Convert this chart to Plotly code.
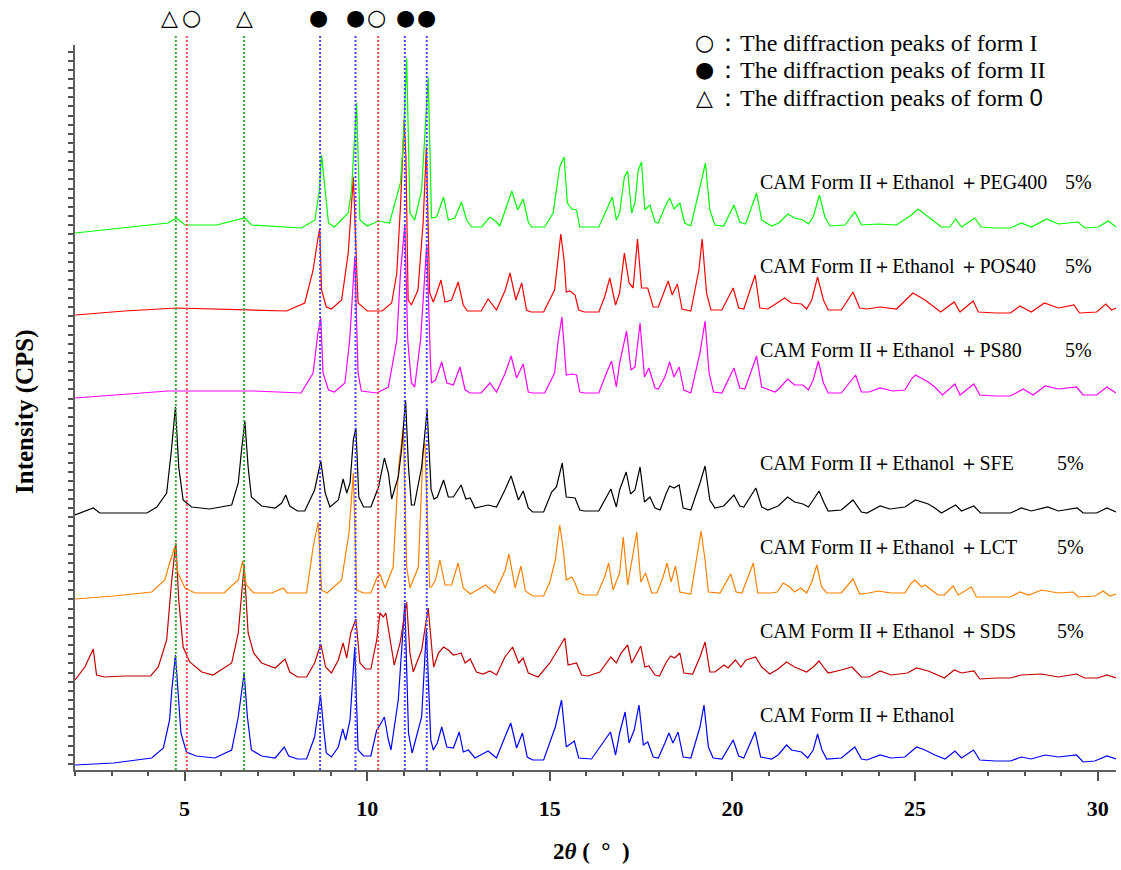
import plotly.graph_objects as go

# ---------------- data (2theta in degrees, intensity above each pattern's own baseline) ----------------
ETHANOL = [(2.00,5),(3.06,7),(4.10,12),(4.42,22),(4.59,50),(4.65,80),(4.75,115),(4.81,83),(4.90,37),(5.05,18),
(5.32,14),(5.83,12),(6.29,20),(6.47,53),(6.63,97),(6.72,53),(6.83,20),(7.11,14),(7.48,12),(7.73,23),
(7.85,14),(8.09,11),(8.34,11),(8.56,33),(8.72,75),(8.82,37),(8.88,17),(9.02,13),(9.21,23),(9.33,41),
(9.41,30),(9.53,50),(9.66,123),(9.75,20),(9.90,14),(10.10,14),(10.26,40),(10.35,45),(10.47,53),(10.58,30),
(10.65,20),(10.85,70),(11.03,167),(11.13,37),(11.23,17),(11.49,53),(11.62,140),(11.74,30),(11.81,20),(11.92,27),
(12.04,43),(12.18,23),(12.36,22),(12.52,38),(12.63,18),(12.77,20),(12.95,12),(13.31,19),(13.54,12),(13.77,33),
(13.93,47),(14.09,22),(14.25,37),(14.38,13),(14.53,10),(14.83,10),(15.00,27),(15.15,43),(15.32,70),(15.45,23),
(15.67,29),(15.79,12),(16.14,11),(16.50,30),(16.66,38),(16.80,15),(16.91,37),(17.06,58),(17.17,27),(17.31,40),
(17.44,65),(17.56,25),(17.68,28),(17.83,13),(17.97,12),(18.15,27),(18.26,37),(18.37,27),(18.51,38),(18.65,13),
(18.86,12),(19.11,43),(19.22,65),(19.34,23),(19.47,12),(19.71,11),(20.02,30),(20.17,14),(20.31,12),(20.62,38),
(20.77,13),(21.07,11),(21.25,15),(21.48,25),(21.62,20),(21.89,18),(22.06,12),(22.21,20),(22.33,36),(22.45,20),
(22.58,11),(22.98,12),(23.35,23),(23.53,11),(23.68,10),(24.04,15),(24.34,12),(24.72,13),(25.04,23),(25.27,20),
(25.54,15),(25.82,11),(26.09,19),(26.27,12),(26.60,20),(26.77,10),(27.21,9),(27.61,9),(27.91,13),(28.18,11),
(28.56,15),(28.92,13),(29.42,15),(29.60,8),(29.92,9),(30.25,14),(30.50,11)]

SDS = [(2.00,5),(2.27,18),(2.50,36),(2.59,10),(2.81,8),(3.36,9),(4.07,9),(4.28,18),(4.51,45),(4.64,102),
(4.76,142),(4.84,85),(4.96,38),(5.14,23),(5.47,13),(5.78,10),(6.29,22),(6.47,52),(6.63,120),(6.74,52),
(6.89,32),(7.11,22),(7.48,17),(7.75,26),(7.88,13),(8.09,8),(8.34,8),(8.56,22),(8.73,41),(8.86,18),
(9.02,12),(9.21,25),(9.34,42),(9.44,27),(9.55,52),(9.69,66),(9.80,22),(9.95,16),(10.10,16),(10.26,45),
(10.35,72),(10.44,68),(10.51,72),(10.62,45),(10.74,20),(10.90,42),(11.08,83),(11.17,32),(11.26,13),(11.49,35),
(11.67,77),(11.78,32),(11.82,18),(11.95,32),(12.09,38),(12.22,35),(12.36,30),(12.49,31),(12.57,32),(12.68,22),
(12.82,26),(12.99,13),(13.17,11),(13.36,14),(13.54,10),(13.77,28),(13.98,38),(14.15,22),(14.27,27),(14.41,12),
(14.68,8),(15.00,22),(15.18,33),(15.41,47),(15.50,20),(15.73,22),(15.87,10),(16.04,9),(16.37,13),(16.55,22),
(16.67,28),(16.82,22),(16.95,32),(17.13,40),(17.24,22),(17.33,28),(17.49,39),(17.60,18),(17.71,19),(17.88,10),
(18.00,9),(18.19,23),(18.31,29),(18.42,27),(18.56,32),(18.67,12),(18.91,11),(19.11,28),(19.25,43),(19.38,13),
(19.52,13),(19.77,20),(19.88,17),(20.08,25),(20.23,18),(20.37,25),(20.63,28),(20.80,18),(21.02,11),(21.25,16),
(21.48,23),(21.70,18),(22.03,13),(22.21,18),(22.37,24),(22.53,16),(22.62,12),(22.98,15),(23.27,18),(23.53,8),
(23.74,8),(24.04,14),(24.34,10),(24.79,12),(25.04,17),(25.36,14),(25.54,11),(25.80,7),(26.07,15),(26.27,12),
(26.61,14),(26.77,6),(27.21,7),(27.61,7),(27.91,10),(28.46,11),(28.92,8),(29.42,11),(29.64,7),(30.00,7),
(30.25,10),(30.50,7)]

LCT = [(2.00,6),(3.06,9),(4.10,13),(4.46,25),(4.59,42),(4.73,58),(4.82,32),(5.01,17),(5.28,12),(6.08,12),
(6.47,25),(6.59,44),(6.69,20),(6.89,12),(7.39,12),(7.70,17),(7.81,12),(7.99,12),(8.34,12),(8.52,58),
(8.66,83),(8.75,15),(8.90,12),(9.30,25),(9.50,72),(9.62,132),(9.71,15),(9.90,12),(10.10,12),(10.26,27),
(10.35,31),(10.49,17),(10.71,38),(10.86,138),(10.99,177),(11.08,38),(11.17,17),(11.40,38),(11.53,155),(11.58,162),
(11.71,18),(11.76,18),(11.87,25),(11.99,45),(12.13,20),(12.31,20),(12.49,42),(12.63,17),(12.82,11),(13.24,20),
(13.49,12),(13.78,35),(13.88,51),(14.05,17),(14.21,39),(14.33,14),(14.53,9),(14.83,9),(15.00,23),(15.15,45),
(15.27,80),(15.36,58),(15.45,25),(15.60,28),(15.69,22),(15.79,12),(15.94,10),(16.29,10),(16.50,28),(16.61,42),
(16.73,15),(16.91,32),(17.01,68),(17.13,20),(17.24,45),(17.38,73),(17.49,23),(17.62,32),(17.79,12),(17.93,12),
(18.10,28),(18.21,42),(18.32,23),(18.44,39),(18.56,13),(18.86,11),(18.98,38),(19.14,74),(19.25,45),(19.34,13),
(19.66,12),(19.95,31),(20.10,13),(20.26,12),(20.57,42),(20.69,12),(21.07,12),(21.22,13),(21.39,22),(21.57,18),
(21.70,13),(21.87,17),(22.03,12),(22.17,23),(22.31,40),(22.44,18),(22.58,12),(22.98,12),(23.30,26),(23.48,11),
(23.74,12),(23.99,14),(24.34,12),(24.72,12),(24.90,22),(25.00,25),(25.18,18),(25.27,20),(25.45,15),(25.63,10),
(25.80,10),(26.04,19),(26.18,10),(26.54,18),(26.68,8),(27.01,8),(27.61,8),(27.87,13),(28.11,10),(28.46,15),
(28.92,12),(29.33,13),(29.47,8),(29.92,9),(30.15,14),(30.33,9),(30.50,11)]

SFE = [(2.00,5),(2.27,9),(2.50,12),(2.68,7),(3.06,7),(3.97,7),(4.24,13),(4.51,27),(4.64,70),(4.75,113),
(4.84,53),(4.96,20),(5.19,13),(5.68,11),(6.29,15),(6.47,37),(6.56,70),(6.65,99),(6.74,53),(6.83,23),
(7.11,14),(7.48,12),(7.66,17),(7.77,25),(7.88,14),(8.09,9),(8.29,9),(8.56,30),(8.73,59),(8.85,27),
(8.98,13),(9.21,20),(9.34,41),(9.44,27),(9.53,37),(9.62,80),(9.69,92),(9.77,23),(9.90,13),(10.10,13),
(10.31,33),(10.47,62),(10.58,47),(10.67,21),(10.85,43),(10.94,70),(11.05,120),(11.13,53),(11.21,15),(11.29,15),
(11.49,53),(11.64,110),(11.75,30),(11.83,21),(11.92,23),(12.09,40),(12.22,23),(12.36,23),(12.57,35),(12.70,21),
(12.82,22),(12.95,12),(13.31,15),(13.54,13),(13.77,30),(13.94,44),(14.14,20),(14.27,29),(14.41,12),(14.53,8),
(14.83,8),(15.05,28),(15.18,33),(15.34,57),(15.45,23),(15.69,22),(15.82,10),(15.94,9),(16.34,9),(16.50,20),
(16.67,31),(16.82,13),(16.91,30),(17.09,48),(17.21,26),(17.33,30),(17.47,53),(17.59,18),(17.74,23),(17.88,12),
(18.02,10),(18.19,27),(18.28,34),(18.40,32),(18.54,35),(18.65,12),(18.86,10),(19.11,37),(19.25,54),(19.38,20),
(19.52,12),(19.76,14),(20.04,25),(20.20,14),(20.31,13),(20.64,32),(20.80,13),(20.97,10),(21.25,14),(21.51,23),
(21.70,18),(21.93,16),(22.08,13),(22.21,20),(22.37,29),(22.51,17),(22.62,9),(22.98,10),(23.30,20),(23.53,8),
(23.68,7),(24.04,14),(24.31,11),(24.72,13),(25.01,20),(25.36,16),(25.54,12),(25.72,7),(26.11,15),(26.27,9),
(26.61,14),(26.79,7),(27.21,7),(27.61,7),(27.91,12),(28.18,9),(28.63,13),(28.92,9),(29.44,12),(29.60,7),
(29.97,7),(30.25,12),(30.50,8)]

PS80 = [(2.00,7),(3.36,11),(4.55,14),(5.38,14),(6.89,14),(8.19,12),(8.52,32),(8.65,72),(8.73,87),(8.79,32),
(8.94,15),(9.10,13),(9.39,22),(9.52,65),(9.66,148),(9.75,32),(9.84,14),(10.26,12),(10.58,18),(10.81,65),
(10.91,132),(11.03,180),(11.11,65),(11.21,22),(11.30,18),(11.46,65),(11.63,160),(11.73,45),(11.76,22),(11.87,25),
(12.04,43),(12.18,22),(12.36,20),(12.54,38),(12.68,15),(12.82,12),(13.12,12),(13.36,22),(13.54,13),(13.78,32),
(13.94,49),(14.09,27),(14.27,41),(14.41,13),(14.53,12),(14.86,12),(15.13,32),(15.23,65),(15.33,88),(15.45,30),
(15.60,31),(15.73,30),(15.82,13),(15.94,12),(16.34,12),(16.55,32),(16.69,44),(16.82,18),(16.91,42),(17.10,74),
(17.22,35),(17.33,38),(17.47,82),(17.59,28),(17.71,37),(17.88,17),(17.97,16),(18.15,28),(18.28,43),(18.40,28),
(18.54,38),(18.67,15),(18.86,12),(19.11,52),(19.25,84),(19.36,32),(19.48,13),(19.71,12),(20.04,37),(20.20,17),
(20.34,16),(20.66,49),(20.80,18),(21.16,13),(21.27,16),(21.51,26),(21.70,20),(21.93,20),(22.08,15),(22.21,25),
(22.35,44),(22.49,22),(22.62,12),(22.98,12),(23.37,30),(23.53,13),(23.74,13),(24.04,17),(24.39,14),(24.72,15),
(24.90,26),(25.01,30),(25.36,23),(25.54,18),(25.75,10),(26.09,21),(26.23,10),(26.61,21),(26.77,10),(27.21,9),
(27.61,9),(27.96,16),(28.23,10),(28.56,19),(28.92,16),(29.42,18),(29.60,10),(29.97,10),(30.25,18),(30.50,12)]

POS40 = [(2.00,5),(3.36,9),(4.77,12),(5.88,11),(7.79,9),(8.29,17),(8.52,50),(8.63,77),(8.70,92),(8.75,30),
(8.88,13),(9.02,11),(9.30,20),(9.48,67),(9.57,120),(9.62,143),(9.71,53),(9.75,17),(10.00,9),(10.41,9),
(10.67,17),(10.81,47),(10.91,113),(11.01,200),(11.06,163),(11.12,20),(11.21,15),(11.39,30),(11.53,97),(11.62,173),
(11.71,27),(11.81,18),(11.90,27),(12.02,40),(12.13,18),(12.31,20),(12.49,38),(12.63,15),(12.74,9),(13.12,9),
(13.31,21),(13.54,10),(13.78,30),(13.91,47),(14.07,20),(14.23,37),(14.36,10),(14.48,8),(14.83,8),(15.13,30),
(15.30,86),(15.39,60),(15.45,28),(15.55,29),(15.69,25),(15.79,10),(15.94,8),(16.34,8),(16.50,23),(16.64,42),
(16.80,15),(16.91,27),(17.04,67),(17.17,37),(17.28,32),(17.40,81),(17.51,32),(17.68,32),(17.83,13),(17.97,13),
(18.24,39),(18.35,25),(18.49,36),(18.62,11),(18.86,9),(19.08,50),(19.17,81),(19.29,27),(19.41,10),(19.71,10),
(20.02,32),(20.17,12),(20.31,11),(20.62,45),(20.75,12),(20.97,11),(21.43,22),(21.61,17),(21.89,16),(22.03,11),
(22.17,20),(22.33,43),(22.49,20),(22.62,10),(22.98,10),(23.30,28),(23.48,12),(23.68,11),(24.04,13),(24.49,11),
(24.94,27),(25.27,20),(25.45,15),(25.70,8),(26.07,18),(26.23,8),(26.59,19),(26.73,8),(27.21,7),(27.61,7),
(27.87,14),(28.18,8),(28.54,17),(28.92,12),(29.35,15),(29.50,7),(29.97,8),(30.22,16),(30.38,10),(30.50,12)]

PEG400 = [(2.00,7),(3.36,12),(4.55,17),(4.78,22),(5.01,15),(5.88,15),(6.65,22),(6.83,15),(8.20,12),(8.57,20),
(8.69,50),(8.75,85),(8.85,50),(8.94,17),(9.10,13),(9.48,27),(9.57,50),(9.71,137),(9.80,20),(10.00,14),
(10.31,19),(10.61,17),(10.91,57),(10.99,100),(11.08,182),(11.17,27),(11.30,20),(11.49,50),(11.67,163),(11.76,22),
(11.90,23),(12.09,43),(12.22,20),(12.40,22),(12.58,38),(12.72,20),(12.86,13),(13.13,13),(13.36,23),(13.54,18),
(13.63,14),(13.82,33),(13.96,49),(14.12,30),(14.27,41),(14.41,18),(14.50,13),(14.86,13),(15.09,27),(15.27,73),
(15.39,83),(15.48,37),(15.60,31),(15.73,30),(15.82,13),(15.94,13),(16.34,13),(16.55,30),(16.71,43),(16.82,20),
(16.91,27),(17.04,63),(17.13,69),(17.24,27),(17.33,37),(17.42,70),(17.51,78),(17.60,30),(17.74,35),(17.88,18),
(17.97,17),(18.15,33),(18.28,42),(18.40,31),(18.56,37),(18.69,17),(18.86,14),(19.11,53),(19.26,77),(19.38,30),
(19.52,15),(19.76,14),(20.04,35),(20.20,18),(20.36,16),(20.66,47),(20.80,20),(21.07,14),(21.27,17),(21.52,26),
(21.70,22),(21.93,20),(22.08,16),(22.21,23),(22.38,45),(22.53,23),(22.67,14),(23.08,15),(23.35,28),(23.53,15),
(23.99,16),(24.49,15),(24.90,25),(25.08,31),(25.36,23),(25.54,18),(25.72,13),(25.95,13),(26.11,21),(26.27,13),
(26.63,22),(26.81,13),(27.21,12),(27.61,12),(27.91,17),(28.18,13),(28.60,21),(28.92,16),(29.46,18),(29.65,12),
(30.01,13),(30.29,19),(30.50,13)]

SERIES_NAMES = ["Ethanol", "SDS", "LCT", "SFE", "PS80", "POS40", "PEG400"]
SERIES_DATA = [ETHANOL, SDS, LCT, SFE, PS80, POS40, PEG400]
SERIES_LABELS = ["CAM Form II＋Ethanol",
                 "CAM Form II＋Ethanol ＋SDS",
                 "CAM Form II＋Ethanol ＋LCT",
                 "CAM Form II＋Ethanol ＋SFE",
                 "CAM Form II＋Ethanol ＋PS80",
                 "CAM Form II＋Ethanol ＋POS40",
                 "CAM Form II＋Ethanol ＋PEG400"]
SERIES_CONC = ["", "5%", "5%", "5%", "5%", "5%", "5%"]

# characteristic peak positions (2theta) of each crystal form
FORM0_PEAKS = [4.76, 6.63]
FORMI_PEAKS = [5.06, 10.30]
FORMII_PEAKS = [8.71, 9.68, 11.03, 11.63]
# symbols drawn above the plot
MARKER_POS = [4.60, 5.18, 6.63, 8.66, 9.68, 10.26, 11.05, 11.63]
MARKER_SYM = ["△", "○", "△", "●", "●", "○", "●", "●"]
LEGEND_ROWS = [("○", "：The diffraction peaks of form I"),
               ("●", "：The diffraction peaks of form II"),
               ("△", "：The diffraction peaks of form <span style='font-family:Liberation Sans'>0</span>")]
X_TICKS = [5, 10, 15, 20, 25, 30]

# ---------------- styling / layout ----------------
COLORS = ["#0000ff", "#c00000", "#ff8000", "#000000", "#ff00ff", "#ff0000", "#00ff00"]
OFFSETS = [0, 85, 165, 250, 365, 450, 530]
LABEL_Y = [715, 631, 547, 463, 350, 266, 182]       # pixel rows of the labels
CONC_X = [0, 1055, 1055, 1055, 1063, 1063, 1063]

W, H = 1121, 870
L, R, T, B = 75, 5, 45, 100
PW, PH = W - L - R, H - T - B
SERIF = "Liberation Serif"


def px(x):
    return (x - L) / PW


def py(y):
    return (H - B - y) / PH


fig = go.Figure()
for data, col, off in zip(SERIES_DATA, COLORS, OFFSETS):
    fig.add_trace(go.Scatter(
        x=[p[0] for p in data], y=[p[1] + off for p in data], mode="lines",
        line=dict(color=col, width=1.2), hoverinfo="skip", showlegend=False))

shapes = []
for peaks, col in ((FORM0_PEAKS, "#35a835"), (FORMI_PEAKS, "#ff4a4a"), (FORMII_PEAKS, "#4848ff")):
    for xv in peaks:
        shapes.append(dict(type="line", xref="x", yref="paper", x0=xv, x1=xv, y0=0, y1=py(36),
                           line=dict(color=col, width=2, dash="2px,2px"), layer="above"))

ann = []
for xv, s in zip(MARKER_POS, MARKER_SYM):
    ann.append(dict(x=xv, y=py(17), xref="x", yref="paper", text=s, showarrow=False,
                    font=dict(family="DejaVu Sans", size=22, color="black"),
                    xanchor="center", yanchor="middle"))

for i, (sym, txt) in enumerate(LEGEND_ROWS):
    yy = 43 + 27 * i
    ann.append(dict(x=px(704), y=py(yy), xref="paper", yref="paper", text=sym, showarrow=False,
                    font=dict(family="DejaVu Sans", size=22, color="black"),
                    xanchor="center", yanchor="middle"))
    ann.append(dict(x=px(714), y=py(yy), xref="paper", yref="paper", text=txt, showarrow=False,
                    font=dict(family=SERIF, size=24, color="black"),
                    xanchor="left", yanchor="middle"))

for lab, conc, ly, cx in zip(SERIES_LABELS, SERIES_CONC, LABEL_Y, CONC_X):
    ann.append(dict(x=px(758), y=py(ly), xref="paper", yref="paper", text=lab, showarrow=False,
                    font=dict(family=SERIF, size=20, color="black"), xanchor="left", yanchor="middle"))
    if conc:
        ann.append(dict(x=px(cx), y=py(ly), xref="paper", yref="paper", text=conc, showarrow=False,
                        font=dict(family=SERIF, size=20, color="black"), xanchor="left", yanchor="middle"))

ann.append(dict(x=px(591), y=py(851), xref="paper", yref="paper",
                text="<b>2<i>θ</i> (  °  )</b>", showarrow=False,
                font=dict(family=SERIF, size=23, color="black"), xanchor="center", yanchor="middle"))
ann.append(dict(x=px(25), y=py(412), xref="paper", yref="paper", textangle=-90,
                text="<b>Intensity (CPS)</b>", showarrow=False,
                font=dict(family=SERIF, size=25, color="black"), xanchor="center", yanchor="middle"))

fig.update_layout(
    width=W, height=H, margin=dict(l=L, r=R, t=T, b=B),
    paper_bgcolor="white", plot_bgcolor="white",
    shapes=shapes, annotations=ann, showlegend=False,
    xaxis=dict(range=[2, 30.5], tickvals=X_TICKS, ticks="outside", ticklen=9, tickwidth=1.5,
               tickcolor="#505050", showline=True, linecolor="#606060", linewidth=2,
               showgrid=False, zeroline=False, ticklabelstandoff=9,
               tickfont=dict(family=SERIF, size=22, color="black", weight="bold"),
               minor=dict(dtick=1, ticks="outside", ticklen=4, tickwidth=1.5, tickcolor="#505050",
                          showgrid=False)),
    yaxis=dict(range=[0, PH], tickmode="linear", tick0=6.2, dtick=9.13, ticks="outside",
               ticklen=5, tickwidth=1.5, tickcolor="#505050", showticklabels=False,
               showline=True, linecolor="#606060", linewidth=2, showgrid=False, zeroline=False),
)

fig.write_html("out.html")
